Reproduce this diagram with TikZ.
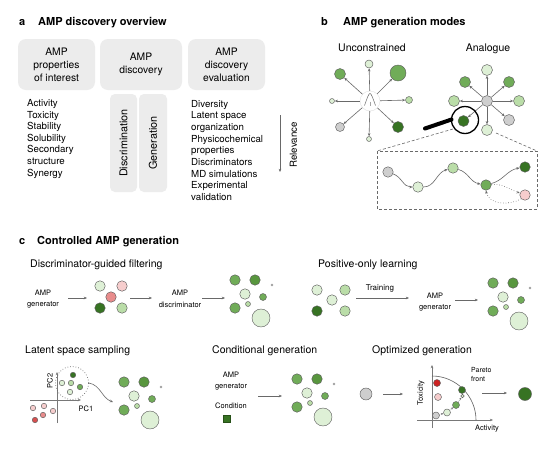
\documentclass[tikz,border=0pt]{standalone}
\usepackage{fontspec}
\setmainfont{TeX Gyre Heros}
\usetikzlibrary{arrows.meta}
\definecolor{boxg}{RGB}{236,236,236}
\definecolor{bord}{RGB}{95,95,95}
\definecolor{arrc}{RGB}{105,105,105}
\definecolor{dkg}{RGB}{55,115,35}
\definecolor{mdg}{RGB}{112,172,88}
\definecolor{mdgb}{RGB}{88,150,62}
\definecolor{ltg}{RGB}{186,221,168}
\definecolor{vlg}{RGB}{222,240,214}
\definecolor{pkl}{RGB}{246,205,205}
\definecolor{pkm}{RGB}{232,140,140}
\definecolor{rdd}{RGB}{205,35,35}
\definecolor{gry}{RGB}{206,206,206}
\tikzset{
 bub/.style 2 args={circle,draw=bord,fill=#1,line width=0.45pt,inner sep=0pt,minimum size=#2},
 garr/.style={draw=arrc,line width=0.6pt,-{Stealth[length=3.2pt,width=2.6pt]}},
 sarr/.style={draw=arrc,line width=0.5pt,-{Stealth[length=2.4pt,width=2pt]}},
 gbox/.style={fill=boxg,rounded corners=8pt,inner sep=0pt,align=center,font=\fontsize{10.3}{13}\selectfont},
 vbox/.style={fill=boxg,rounded corners=5pt,inner sep=0pt,font=\fontsize{10.8}{12}\selectfont},
 ttl/.style={font=\fontsize{11}{13}\selectfont\bfseries,anchor=base west,inner sep=0pt},
 sub/.style={font=\fontsize{10.5}{12}\selectfont,anchor=base west,inner sep=0pt},
 lst/.style={font=\fontsize{9.7}{11}\selectfont,anchor=base west,inner sep=0pt},
 sml/.style={font=\fontsize{7.5}{11.5}\selectfont,align=center,inner sep=0pt},
 axl/.style={font=\fontsize{7.5}{9}\selectfont,inner sep=0pt},
 dsh/.style={draw=arrc,line width=0.6pt,dash pattern=on 3pt off 2pt},
}
\newcommand{\rescl}[3]{%
 \begin{scope}[shift={(#2,#3)}]
 \node[bub={mdg}{10.5pt}] (#1a) at (0,0) {};
 \node[bub={mdgb}{10.5pt}] (#1b) at (20,0) {};
 \node[circle,fill=gray!75,inner sep=0pt,minimum size=2.6pt] (#1c) at (37,5) {};
 \node[bub={vlg}{10.5pt}] (#1d) at (10,14) {};
 \node[bub={mdg}{7pt}] (#1e) at (28,17) {};
 \node[bub={mdg}{10.5pt}] (#1f) at (0,28) {};
 \node[bub={ltg}{5pt}] (#1g) at (13,24) {};
 \node[bub={vlg}{18pt}] (#1h) at (26,38) {};
 \end{scope}}
\begin{document}
\begin{tikzpicture}[x=1pt,y=-1pt]
\useasboundingbox (0,0) rectangle (551,453);
\fill[white] (0,0) rectangle (551,453);

% ---------------- panel a
\node[ttl] (la) at (19,25) {a};
\node[ttl] (ta) at (38,25) {AMP discovery overview};
\node[gbox,minimum width=77pt,minimum height=51pt] (b1) at (56.5,64.5) {AMP\\properties\\of interest};
\node[gbox,minimum width=82pt,minimum height=51pt] (b2) at (141,64.5) {AMP\\discovery};
\node[gbox,minimum width=77pt,minimum height=51pt] (b3) at (226.5,64.5) {AMP\\discovery\\evaluation};
\node[vbox,rotate=90,minimum width=98pt,minimum height=27pt] (dsc) at (123.5,143) {Discrimination};
\node[vbox,rotate=90,minimum width=98pt,minimum height=28pt] (gen) at (153,143) {Generation};
\foreach \t [count=\i] in {Activity,Toxicity,Stability,Solubility,Secondary,structure,Synergy}
 \node[lst] (pl\i) at (27,{106.5+11.6*(\i-1)}) {\t};
\foreach \t [count=\i] in {Diversity,Latent space,organization,Physicochemical,properties,Discriminators,MD simulations,Experimental,validation}
 \node[lst] (pr\i) at (191,{107+11.7*(\i-1)}) {\t};
\coordinate (rv1) at (280,115);
\coordinate (rv2) at (280,172);
\draw[garr] (rv1) -- (rv2);
\node[font=\fontsize{9.7}{11}\selectfont,rotate=90,inner sep=0pt] (rel) at (293.5,145) {Relevance};

% ---------------- panel b
\node[ttl] (lb) at (321,25) {b};
\node[ttl] (tb) at (343,25) {AMP generation modes};
\node[font=\fontsize{10.5}{12}\selectfont,anchor=base,inner sep=0pt] (unc) at (372,51) {Unconstrained};
\node[font=\fontsize{10.5}{12}\selectfont,anchor=base,inner sep=0pt] (ana) at (488,51) {Analogue};

% unconstrained
\node[circle,fill=white,draw=gry!60,line width=0.4pt,minimum size=20pt,inner sep=0pt] (uc) at (370,101) {};
\node[bub={vlg}{8pt}] (u1) at (369,64) {};
\node[bub={mdg}{11pt}] (u2) at (340,74) {};
\node[bub={mdg}{16pt}] (u3) at (398,73) {};
\node[bub={vlg}{5pt}] (u4) at (332,101) {};
\node[bub={ltg}{7pt}] (u5) at (409,100) {};
\node[bub={gry}{9pt}] (u6) at (340,127) {};
\node[bub={vlg}{5pt}] (u7) at (369,139) {};
\node[bub={dkg}{11pt}] (u8) at (398,127) {};
\foreach \k in {1,...,8} \draw[garr] (uc) -- (u\k);
\draw[arrc,line width=0.5pt] (364.5,105.5) .. controls (367.5,97) and (368.8,93.5) .. (370,93.5) .. controls (371.2,93.5) and (372.5,97) .. (375.5,105.5);
\draw[arrc!60,line width=0.4pt] (370,101.5) -- (370,105.5);

% analogue
\node[bub={gry}{11pt}] (ac) at (487,101) {};
\node[bub={vlg}{11pt}] (a1) at (487,70) {};
\node[bub={mdg}{11pt}] (a2) at (465,82) {};
\node[bub={mdg}{11pt}] (a3) at (509,82) {};
\node[bub={ltg}{11pt}] (a4) at (454,101) {};
\node[bub={ltg}{11pt}] (a5) at (519,101) {};
\node[bub={dkg}{11pt}] (a6) at (463.5,121) {};
\node[bub={vlg}{11pt}] (a7) at (487,130) {};
\node[bub={gry}{11pt}] (a8) at (509,120) {};
\foreach \k in {1,...,8} \draw[garr] (ac) -- (a\k);

% magnifier
\node[circle,draw=black,line width=1.3pt,minimum size=27pt,inner sep=0pt] (mag) at (465,120) {};
\coordinate (hd1) at (425,128.5);
\coordinate (hd2) at (451.5,119.5);
\draw[black,line width=4pt,line cap=round] (hd1) -- (hd2);

% zoom box
\coordinate (zl) at (453,129);
\coordinate (zr) at (496,133);
\coordinate (bx1) at (377,151);
\coordinate (bx2) at (537,209);
\coordinate (bx3) at (537,151);
\draw[dsh] (zl) -- (bx1);
\draw[dsh] (zr) -- (bx3);
\draw[dsh] (bx1) rectangle (bx2);
\node[bub={gry}{10.5pt}] (ch1) at (388,172) {};
\node[bub={vlg}{10.5pt}] (ch2) at (418,187) {};
\node[bub={ltg}{10.5pt}] (ch3) at (453,168) {};
\node[bub={mdg}{10.5pt}] (ch4) at (486,185) {};
\node[bub={dkg}{10.5pt}] (ch5) at (525,167) {};
\node[bub={pkl}{10.5pt}] (ch6) at (525,195) {};
\draw[garr] (ch1) to[out=-20,in=180] (ch2);
\draw[garr] (ch2) to[out=0,in=195] (ch3);
\draw[garr] (ch3) to[out=-15,in=170] (ch4);
\draw[garr] (ch4) to[out=15,in=190] (ch5);
\draw[garr,dotted] (ch4) to[out=5,in=160] (ch6);
\draw[garr,dotted] (ch6.south west) to[out=210,in=-80] (ch4.south);

% ---------------- panel c
\node[ttl] (lc) at (19,244) {c};
\node[ttl] (tc) at (37,244) {Controlled AMP generation};

% filtering
\node[sub] (sf) at (30,267.5) {Discriminator-guided filtering};
\node[sml] (fg) at (43,299) {AMP\\generator};
\coordinate (f1s) at (68,298);
\coordinate (f1e) at (87,298);
\draw[garr] (f1s) -- (f1e);
\node[bub={vlg}{10.5pt}] (fa) at (100,286) {};
\node[bub={pkl}{10.5pt}] (fb) at (122,286) {};
\node[bub={pkm}{10.5pt}] (fc) at (111,297) {};
\node[bub={dkg}{10.5pt}] (fd) at (100,308) {};
\node[bub={ltg}{10.5pt}] (fe) at (122,308) {};
\coordinate (f2s) at (130,298);
\coordinate (f2e) at (152,298);
\draw[garr] (f2s) -- (f2e);
\node[sml] (fdis) at (180,299) {AMP\\discriminator};
\coordinate (f3s) at (202,298);
\coordinate (f3e) at (225,298);
\draw[garr] (f3s) -- (f3e);
\rescl{r1}{235}{280}

% positive only
\node[sub] (sp) at (318,267) {Positive-only learning};
\node[bub={vlg}{10.5pt}] (pa) at (317,290) {};
\node[bub={ltg}{10.5pt}] (pb) at (345,290) {};
\node[bub={vlg}{10.5pt}] (pc) at (332,300) {};
\node[bub={dkg}{10.5pt}] (pd) at (317,311) {};
\node[bub={ltg}{10.5pt}] (pe) at (345,311) {};
\node[font=\fontsize{8}{10}\selectfont,anchor=base,inner sep=0pt] (tr) at (380,290) {Training};
\coordinate (p1s) at (356,298);
\coordinate (p1e) at (409,298);
\draw[garr] (p1s) -- (p1e);
\node[sml] (pg) at (435,302) {AMP\\generator};
\coordinate (p2s) at (455,300);
\coordinate (p2e) at (478,300);
\draw[garr] (p2s) -- (p2e);
\rescl{r2}{493}{283}

% latent space sampling
\node[sub] (sl) at (25,353) {Latent space sampling};
\coordinate (ax1) at (30,400);
\coordinate (ax2) at (81,400);
\coordinate (ay1) at (57,423);
\coordinate (ay2) at (57,372);
\draw[garr,draw=arrc!90] (ax1) -- (ax2);
\draw[garr,draw=arrc!90] (ay1) -- (ay2);
\node[axl] (pc1) at (86,409) {PC1};
\node[axl,rotate=90] (pc2) at (50,381) {PC2};
\node[circle,draw=arrc,dotted,line width=0.7pt,minimum size=33pt,inner sep=0pt] (lcir) at (72,383) {};
\node[bub={dkg}{5.5pt}] (l1) at (73,375) {};
\node[bub={vlg}{5.5pt}] (l2) at (62,383) {};
\node[bub={ltg}{5.5pt}] (l3) at (71,383) {};
\node[bub={mdg}{5.5pt}] (l4) at (80,387) {};
\node[bub={vlg}{5.5pt}] (l5) at (70,392) {};
\node[bub={pkl}{5.5pt}] (l6) at (33,408) {};
\node[bub={pkl}{5.5pt}] (l7) at (44,406) {};
\node[bub={pkl}{5.5pt}] (l8) at (53,411) {};
\node[bub={pkm}{5.5pt}] (l9) at (43,415) {};
\node[bub={rdd!80}{5.5pt}] (l10) at (35,420) {};
\coordinate (lae) at (113,402);
\draw[garr] (lcir.east) to[out=-10,in=160] (lae);
\rescl{r3}{124}{382}

% conditional generation
\node[sub] (sc) at (212,353) {Conditional generation};
\node[sml] (cg) at (231,381) {AMP\\generator};
\node[axl,anchor=base] (cond) at (231,408) {Condition};
\node[fill=dkg,draw=dkg!70!black,line width=0.3pt,minimum size=7pt,inner sep=0pt] (sq) at (227,419) {};
\coordinate (c1s) at (258,396);
\coordinate (c1e) at (282,396);
\draw[garr] (c1s) -- (c1e);
\rescl{r4}{297}{379}

% optimized generation
\node[sub] (so) at (372,353) {Optimized generation};
\node[bub={gry}{12pt}] (og) at (366,394) {};
\coordinate (o1s) at (383,394);
\coordinate (o1e) at (403,394);
\draw[garr] (o1s) -- (o1e);
\coordinate (bx0) at (417,420);
\coordinate (bxe) at (493,420);
\coordinate (by0) at (432,428);
\coordinate (bye) at (432,365);
\draw[garr,draw=arrc!90] (bx0) -- (bxe);
\draw[garr,draw=arrc!90] (by0) -- (bye);
\coordinate (pf1) at (432,376);
\coordinate (pf2) at (476,420);
\draw[bord,line width=0.6pt] (pf1) .. controls (456,376) and (476,396) .. (pf2);
\node[axl,rotate=90] (tox) at (421,393) {Toxicity};
\node[axl,anchor=base] (act) at (487,430) {Activity};
\node[font=\fontsize{7}{9.5}\selectfont,align=left,anchor=north west,inner sep=0pt] (par) at (471,367) {Pareto\\front};
\node[bub={rdd}{7pt}] (q1) at (437,383) {};
\node[bub={pkl}{7pt}] (q2) at (438,397) {};
\node[bub={dkg}{7pt}] (q3) at (462,390) {};
\node[bub={vlg}{3.5pt}] (q4) at (462.5,396) {};
\node[bub={mdg}{7pt}] (q5) at (456,405) {};
\node[bub={vlg}{7pt}] (q6) at (447,412.5) {};
\node[bub={gry}{7pt}] (q7) at (436,415.5) {};
\draw[sarr,densely dotted] (q7) -- (q6);
\draw[sarr,densely dotted] (q6) -- (q5);
\draw[sarr,densely dotted] (q5) -- (q4);
\coordinate (o2s) at (482,393);
\coordinate (o2e) at (507,393);
\draw[garr] (o2s) -- (o2e);
\node[bub={dkg}{13pt}] (ofin) at (525,394) {};
\end{tikzpicture}
\end{document}
